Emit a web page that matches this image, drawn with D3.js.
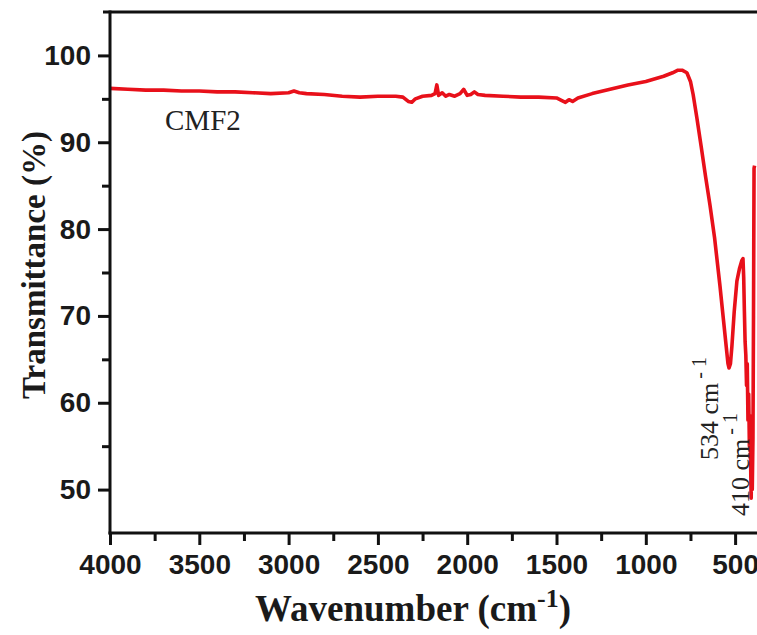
<!DOCTYPE html>
<html>
<head>
<meta charset="utf-8">
<script src="https://d3js.org/d3.v7.min.js"></script>
<style>
body { margin: 0; background: #fff; }
.tick text { font-family: Arial, "Liberation Sans", sans-serif; font-weight: bold; font-size: 28px; fill: #1a1a1a; }
.tick line { stroke: #111; stroke-width: 3px; }
</style>
</head>
<body>
<svg width="757" height="635"></svg>
<script>

// FTIR spectrum of CMF2
var wavenumber = [4000, 3900, 3800, 3700, 3600, 3500, 3400, 3300, 3200, 3100, 3000, 2970, 2940, 2900,
	2800, 2700, 2600, 2500, 2400, 2360, 2330, 2310, 2290, 2250, 2200, 2180, 2170, 2160, 2140, 2120,
	2100, 2070, 2040, 2020, 2000, 1980, 1960, 1940, 1900, 1800, 1700, 1600, 1500, 1470, 1450, 1430,
	1410, 1380, 1300, 1200, 1100, 1000, 900, 850, 820, 797, 770, 750, 735, 714, 690, 665, 641, 615,
	585, 565, 550, 540, 534, 526, 518, 505, 490, 475, 462, 456, 452, 448, 444, 440, 436, 432, 428,
	424, 420, 416, 412, 410, 408, 404, 400, 397, 394, 391];
var transmittance = [96.2, 96.1, 96.0, 96.0, 95.9, 95.9, 95.8, 95.8, 95.7, 95.6, 95.7, 95.9, 95.7, 95.6,
	95.5, 95.3, 95.2, 95.3, 95.3, 95.2, 94.7, 94.6, 95.0, 95.3, 95.4, 95.6, 96.6, 95.4, 95.7, 95.3,
	95.5, 95.3, 95.6, 96.1, 95.4, 95.5, 95.8, 95.5, 95.4, 95.3, 95.2, 95.2, 95.1, 94.8, 94.6, 94.9,
	94.7, 95.1, 95.6, 96.1, 96.6, 97.0, 97.6, 98.0, 98.3, 98.3, 98.0, 97.0, 95.5, 92.8, 89.5, 86.0, 82.8, 79.0,
	73.5, 69.5, 66.5, 64.5, 64.0, 64.5, 66.5, 70.5, 74.0, 75.5, 76.4, 76.6, 74.5, 70.5, 67.0, 65.5, 62.0, 64.5, 58.0,
	61.0, 55.0, 58.5, 51.5, 49.0, 53.0, 50.0, 56.0, 70.0, 87.0, 87.3];

var xMajor = [4000, 3500, 3000, 2500, 2000, 1500, 1000, 500];
var xMinor = [3750, 3250, 2750, 2250, 1750, 1250, 750];
var yMajor = [50, 60, 70, 80, 90, 100];
var yMinor = [55, 65, 75, 85, 95];

var svg = d3.select("svg");

var x = d3.scaleLinear().domain([4000, 350]).range([110, 761.9]);
var y = d3.scaleLinear().domain([45, 105]).range([533, 12]);

var data = wavenumber.map(function(w, i) { return { w: w, t: transmittance[i] }; });

// curve
svg.append("defs").append("clipPath").attr("id", "clip")
	.append("rect").attr("x", 110).attr("y", 12).attr("width", 660).attr("height", 521);

svg.append("path")
	.datum(data)
	.attr("clip-path", "url(#clip)")
	.attr("fill", "none")
	.attr("stroke", "#e8101a")
	.attr("stroke-width", 3.6)
	.attr("stroke-linejoin", "round")
	.attr("d", d3.line().x(function(d) { return x(d.w); }).y(function(d) { return y(d.t); }));

// axes
var xAxis = svg.append("g").attr("transform", "translate(0,533)")
	.call(d3.axisBottom(x).tickValues(xMajor).tickSize(12).tickSizeOuter(0).tickPadding(9).tickFormat(d3.format("d")));
xAxis.select(".domain").remove();
svg.append("g").attr("transform", "translate(0,533)")
	.call(d3.axisBottom(x).tickValues(xMinor).tickSize(8).tickSizeOuter(0).tickFormat(""))
	.select(".domain").remove();

var yAxis = svg.append("g").attr("transform", "translate(110,0)")
	.call(d3.axisLeft(y).tickValues(yMajor).tickSize(12).tickSizeOuter(0).tickPadding(7));
yAxis.select(".domain").remove();
svg.append("g").attr("transform", "translate(110,0)")
	.call(d3.axisLeft(y).tickValues(yMinor).tickSize(8).tickSizeOuter(0).tickFormat(""))
	.select(".domain").remove();

// frame lines
svg.append("path").attr("fill", "none").attr("stroke", "#111").attr("stroke-width", 3)
	.attr("d", "M103," + y(105) + "H757");
svg.append("path").attr("fill", "none").attr("stroke", "#111").attr("stroke-width", 3)
	.attr("d", "M" + x(4000) + "," + (y(105) - 1.5) + "V" + (y(45) + 1.5));
svg.append("path").attr("fill", "none").attr("stroke", "#111").attr("stroke-width", 3)
	.attr("d", "M" + (x(4000) - 1.5) + "," + y(45) + "H757");

// axis titles
var serif = "'Times New Roman', 'Liberation Serif', serif";
var xt = svg.append("text")
	.attr("x", 413).attr("y", 621)
	.attr("text-anchor", "middle")
	.attr("font-family", serif).attr("font-weight", "bold").attr("font-size", 37)
	.attr("fill", "#1a1a1a");
xt.append("tspan").text("Wavenumber (cm");
xt.append("tspan").attr("dy", -14).attr("font-size", 26).text("-1");
xt.append("tspan").attr("dy", 14).text(")");

svg.append("text")
	.attr("transform", "translate(45,265) rotate(-90)")
	.attr("text-anchor", "middle")
	.attr("font-family", serif).attr("font-weight", "bold").attr("font-size", 33)
	.attr("fill", "#1a1a1a")
	.text("Transmittance (%)");

// annotations
svg.append("text")
	.attr("x", 165).attr("y", 130)
	.attr("font-family", serif).attr("font-size", 29)
	.attr("fill", "#222")
	.text("CMF2");

function peakLabel(px, py, num) {
	var t = svg.append("text")
		.attr("transform", "translate(" + px + "," + py + ") rotate(-90)")
		.attr("font-family", serif).attr("font-size", 26)
		.attr("fill", "#222");
	t.append("tspan").text(num + " cm");
	t.append("tspan").attr("dy", -12).attr("dx", 4).attr("font-size", 20).text("- 1");
}
peakLabel(718, 460, "534");
peakLabel(749, 516, "410");

</script>
</body>
</html>
